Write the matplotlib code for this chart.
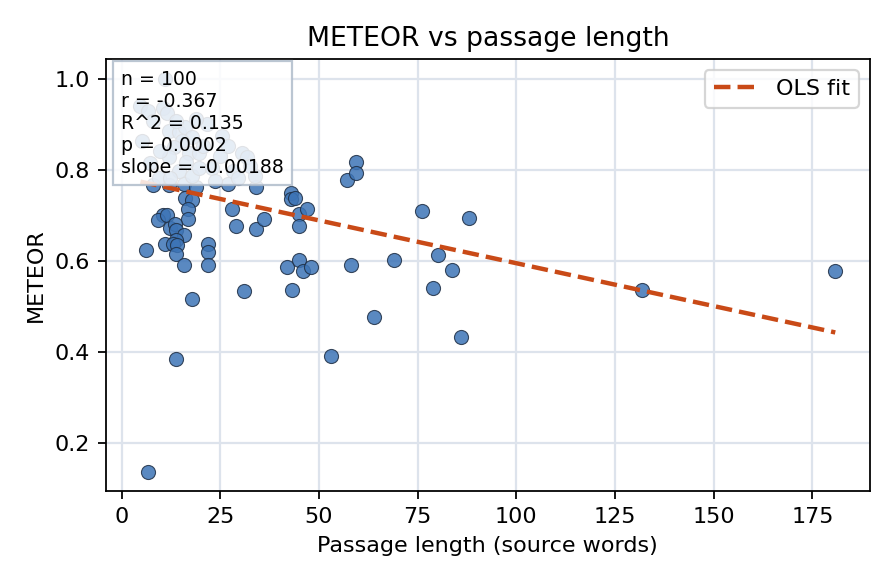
import numpy as np
import matplotlib.pyplot as plt

# passage length (source words) and METEOR score, one entry per passage
passage_len = [
    6.8, 6.1, 8.1, 12.1, 15.9, 18.9, 27.0, 34.1, 16.2, 17.9,
    16.9, 16.9, 10.4, 9.3, 11.4, 12.4, 13.6, 13.9, 15.9, 10.9,
    13.9, 13.1, 14.1, 13.9, 15.9, 22.0, 22.0, 22.0, 28.0, 29.0,
    34.1, 36.1, 42.9, 42.9, 43.9, 44.9, 47.0, 44.9, 41.9, 44.9,
    46.0, 48.0, 43.2, 31.1, 17.9, 13.9, 53.0, 58.1, 57.1, 59.3,
    59.3, 63.9, 68.9, 76.0, 87.9, 80.1, 83.8, 79.0, 85.9, 131.8,
    180.8,
    11.1, 4.8, 6.6, 10.4, 11.6, 12.1, 14.6, 16.2, 17.9, 15.4,
    5.3, 13.4, 12.1, 17.2, 7.1, 14.6, 9.6, 12.4, 17.9, 19.7,
    19.7, 25.5, 21.7, 30.6, 31.8, 33.8, 28.3, 29.5, 23.0, 25.0,
    20.7, 8.1, 16.4, 9.8, 27.0, 23.7, 13.9, 18.9, 32.6,
]
meteor = [
    0.138, 0.625, 0.766, 0.766, 0.768, 0.763, 0.768, 0.763, 0.737, 0.733,
    0.715, 0.691, 0.700, 0.689, 0.700, 0.673, 0.682, 0.667, 0.656, 0.638,
    0.645, 0.638, 0.634, 0.616, 0.590, 0.638, 0.620, 0.590, 0.713, 0.676,
    0.669, 0.693, 0.748, 0.735, 0.737, 0.704, 0.713, 0.676, 0.586, 0.603,
    0.579, 0.586, 0.537, 0.533, 0.516, 0.384, 0.391, 0.592, 0.777, 0.816,
    0.792, 0.478, 0.603, 0.709, 0.695, 0.612, 0.581, 0.540, 0.434, 0.537,
    0.579,
    1.000, 0.941, 0.930, 0.936, 0.925, 0.886, 0.882, 0.893, 0.871, 0.864,
    0.864, 0.849, 0.827, 0.836, 0.814, 0.798, 0.781, 0.783, 0.787, 0.805,
    0.836, 0.875, 0.901, 0.836, 0.827, 0.787, 0.798, 0.783, 0.805, 0.831,
    0.853, 0.908, 0.816, 0.842, 0.853, 0.776, 0.908, 0.912, 0.809,
]

# reported OLS results
slope = -0.00188
intercept = 0.783
stats_lines = ["n = 100", "r = -0.367", "R^2 = 0.135", "p = 0.0002", "slope = -0.00188"]

x = np.array(passage_len)
y = np.array(meteor)

fig, ax = plt.subplots(figsize=(896 / 160, 584 / 160), dpi=160)
fig.subplots_adjust(left=0.118, right=0.971, top=0.899, bottom=0.159)
ax.grid(True, color="#dde3ec", linewidth=1.0)
ax.set_axisbelow(True)

ax.scatter(x, y, s=40, color="#3d74b6", alpha=0.85,
           edgecolors="#1f2f45", linewidths=0.5, zorder=3)

xs = np.linspace(x.min(), x.max(), 100)
ax.plot(xs, intercept + slope * xs, linestyle="--", color="#c94a17",
        linewidth=2, label="OLS fit", zorder=4)

ax.text(0.02, 0.975, "\n".join(stats_lines), transform=ax.transAxes,
        va="top", ha="left", fontsize=8.5, zorder=5,
        bbox=dict(boxstyle="square,pad=0.45", facecolor="white",
                  edgecolor="#b0bccb", alpha=0.85))

ax.set_title("METEOR vs passage length", fontsize=12)
ax.set_xlabel("Passage length (source words)")
ax.set_ylabel("METEOR")
ax.legend(loc="upper right")

plt.savefig("out.png", dpi=160)
